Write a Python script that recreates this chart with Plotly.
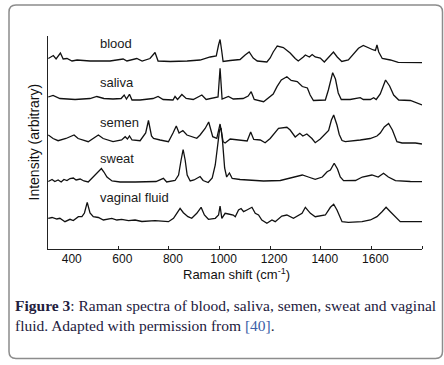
import plotly.graph_objects as go

# ---------------- data ----------------
names = ["blood", "saliva", "semen", "sweat", "vaginal fluid"]
offsets = [186, 144, 105, 67, 27]

blood_x = [323, 343, 354, 371, 382, 397, 417, 437, 488, 567, 619, 634, 673, 694, 725, 745, 757, 805,
           872, 923, 963, 987, 996, 1002, 1008, 1014, 1042, 1081, 1101, 1117, 1133, 1149, 1187, 1200,
           1212, 1228, 1252, 1279, 1299, 1311, 1331, 1339, 1355, 1366, 1378, 1398, 1414, 1434, 1450,
           1465, 1483, 1509, 1525, 1549, 1568, 1588, 1608, 1616, 1622, 1629, 1643, 1675, 1706, 1800]
blood_y = [4.5, 7.5, 4, 10, 4, 4.5, 2, 3, 2, 2, 4, 2, 4.5, 2, 4.5, 10.5, 2, 1.5,
           2, 3, 6, 7, 18, 23.5, 13, 1.5, 2.5, 3.5, 8, 11, 5, 2, 1, 5,
           11, 17, 15.5, 10, 4.5, 2, 6, 8, 6, 8.5, 6, 5, 1, 6, 11,
           6, 1.5, 3, 8, 14.7, 17.5, 15, 13, 12.5, 18, 11, 4.5, 3, 0.7, 0.3]

saliva_x = [323, 342, 369, 429, 488, 515, 543, 579, 611, 623, 632, 644, 654, 686, 737, 757, 777, 816,
            824, 834, 851, 868, 896, 930, 947, 979, 994, 1002, 1010, 1035, 1054, 1093, 1113, 1125,
            1137, 1174, 1200, 1212, 1227, 1244, 1266, 1283, 1307, 1327, 1347, 1358, 1371, 1390, 1418,
            1430, 1447, 1458, 1469, 1481, 1516, 1556, 1568, 1596, 1609, 1619, 1635, 1656, 1672, 1688,
            1708, 1754, 1800]
saliva_y = [8, 9.5, 6.5, 5.5, 6.5, 8.5, 6.5, 6, 6.5, 10, 6, 10.7, 5, 5, 6.5, 8.5, 5.5, 5,
            8.5, 5.5, 10.5, 6.5, 5.5, 10, 5.5, 7, 8, 36.7, 6, 8.5, 6, 6.5, 9, 13.3,
            5.5, 3.3, 8.3, 11, 18.3, 25, 28.3, 24.5, 23.5, 18.5, 17, 10, 4.5, 5, 5,
            15, 32.3, 26, 12, 5.5, 5.5, 7.3, 5.5, 5.5, 7.3, 5.5, 11, 25, 19, 10,
            5, 4.5, 0]

semen_x = [323, 342, 362, 393, 425, 441, 481, 500, 521, 540, 579, 613, 627, 636, 644, 654, 686, 708,
           719, 731, 739, 765, 798, 816, 829, 840, 855, 871, 890, 910, 923, 943, 957, 973, 989, 1002,
           1014, 1022, 1042, 1081, 1109, 1123, 1135, 1161, 1180, 1200, 1216, 1233, 1266, 1279, 1299,
           1317, 1329, 1345, 1365, 1378, 1398, 1418, 1431, 1442, 1451, 1464, 1473, 1484, 1497, 1556,
           1595, 1622, 1635, 1651, 1668, 1683, 1701, 1721, 1774, 1800]
semen_y = [9, 5.5, 3.3, 5.5, 9, 5.5, 2.3, 5.5, 9, 5.5, 2.3, 4, 7.3, 5, 8, 4, 3.3, 11,
           23.5, 8, 5.5, 4, 2.3, 11, 18, 11, 13.5, 9, 7.3, 5.7, 9, 15.5, 22, 7.3, 5.7, 20,
           2.3, 1, 5, 4, 3, 12, 4.5, 4, 1.3, 5.5, 11, 15.7, 16.7, 14, 7,
           10.7, 8, 10, 5.5, 1.3, 5, 10.7, 13.5, 24, 29, 19, 9.5, 3.5, 2.3, 4,
           5.5, 8, 11, 17, 20.5, 14, 2.3, 1, 1, 0]

sweat_x = [323, 338, 349, 362, 374, 385, 397, 409, 422, 433, 449, 464, 481, 496, 508, 517, 533, 543,
           555, 575, 607, 666, 718, 749, 778, 791, 824, 838, 848, 856, 864, 872, 884, 899, 923, 935,
           955, 971, 983, 992, 1000, 1006, 1012, 1020, 1028, 1039, 1050, 1081, 1121, 1174, 1240, 1299,
           1327, 1351, 1378, 1406, 1425, 1438, 1453, 1466, 1477, 1490, 1537, 1564, 1602, 1627, 1648,
           1667, 1695, 1754, 1800]
sweat_y = [0.5, 2.5, 0.5, 2, 0, 2.5, 1.5, 3.5, 4, 2, 3, 1, 0, 4, 7, 9, 13.5, 10,
           5, 1, 0, 0, 0, 0.5, 3.7, 0, 1.5, 7, 22, 32.5, 22, 7, 1, 2, 5.5, 1.5,
           -0.5, 4, 17, 37, 52, 54, 40, 14, 5, 9, 3.5, 2.5, 2, 1, 1.5, 5,
           7, 5, 2.7, 5, 10.3, 12, 18.7, 13, 5, 1.3, 1.5, 5, 7, 5, 8.7,
           5, 1.3, 0.5, 0.3]

vaginal_x = [323, 338, 357, 369, 389, 409, 422, 442, 456, 466, 477, 488, 501, 521, 541, 574, 594, 613,
             640, 666, 693, 745, 798, 818, 831, 844, 857, 875, 890, 910, 927, 940, 956, 983, 996, 1002,
             1009, 1022, 1035, 1054, 1062, 1075, 1085, 1095, 1108, 1128, 1141, 1154, 1167, 1187, 1207,
             1220, 1246, 1266, 1292, 1312, 1326, 1339, 1359, 1378, 1405, 1418, 1438, 1451, 1464, 1484,
             1509, 1563, 1596, 1622, 1642, 1658, 1675, 1695, 1714, 1800]
vaginal_y = [3.7, 4.5, 3, 3.7, 0.3, 2.7, 1.5, 5.3, 5.3, 9, 19.7, 9, 5.3, 4.5, 2, 3.7, 2, 2.7,
             1.3, 2, 0.5, 1.3, 0.3, 3.7, 8.7, 13.7, 9.3, 5.3, 3.7, 8.7, 14.7, 7, 2.7, 3.7, 7, 16,
             3.7, 8.7, 8, 7, 5.3, 12, 13.5, 10.3, 12, 14.7, 8.7, 7, 2, -1.3, 2,
             0.3, 6, 7, 3.7, 7, 8.7, 14.7, 8.7, 5.3, 6, 7, 14.7, 17.7, 12, 0.3,
             -0.3, 0.3, 2, 5.3, 10.3, 14.7, 10.3, 5.3, 0.3, 0.3]

spectra_x = [blood_x, saliva_x, semen_x, sweat_x, vaginal_x]
spectra_y = [blood_y, saliva_y, semen_y, sweat_y, vaginal_y]

tick_values = [400, 600, 800, 1000, 1200, 1400, 1600]
tick_marks = [600, 800, 1000, 1200, 1400, 1600, 1800]

# ---------------- layout constants ----------------
W, H = 444, 365
ML, MR, MT, MB = 48, 22, 36, 116
PW, PH = W - ML - MR, H - MT - MB
label_dy = [20, 22.7, 21.3, 23.7, 24.7]


def px(x):
    return (x - ML) / PW


def py(y):
    return (MT + PH - y) / PH


fig = go.Figure()
for xs, ys, off in zip(spectra_x, spectra_y, offsets):
    fig.add_trace(go.Scatter(
        x=xs, y=[v + off for v in ys], mode="lines",
        line=dict(color="#111111", width=1.3),
        hoverinfo="skip", showlegend=False))

annotations = []
for name, off, dy in zip(names, offsets, label_dy):
    annotations.append(dict(x=520, y=off + dy, xref="x", yref="y", text=name,
                            showarrow=False, xanchor="left", yanchor="middle",
                            font=dict(family="Liberation Sans, Arial", size=13, color="#1a1a1a")))

annotations.append(dict(x=px(33), y=0.5, xref="paper", yref="paper",
                        text="Intensity (arbitrary)", textangle=-90, showarrow=False,
                        xanchor="center", yanchor="middle",
                        font=dict(family="Liberation Sans, Arial", size=14, color="#111111")))
annotations.append(dict(x=px(236), y=py(274), xref="paper", yref="paper",
                        text="Raman shift (cm<sup>-1</sup>)", showarrow=False,
                        xanchor="center", yanchor="middle",
                        font=dict(family="Liberation Sans, Arial", size=13, color="#111111")))

cap_font = dict(family="Liberation Serif, Times New Roman, serif", size=15.5, color="#23203d")
annotations.append(dict(x=px(13), y=py(305), xref="paper", yref="paper",
                        text="<b>Figure 3</b>: Raman spectra of blood, saliva, semen, sweat and vaginal",
                        showarrow=False, xanchor="left", yanchor="middle", font=cap_font))
annotations.append(dict(x=px(13), y=py(325), xref="paper", yref="paper",
                        text="fluid. Adapted with permission from <span style='color:#3d5fa8'>[40]</span>.",
                        showarrow=False, xanchor="left", yanchor="middle", font=cap_font))

# rounded frame
L, R, T, B, r = 9, 442.5, 5, 358.5, 7
path = (f"M {px(L + r)},{py(T)} L {px(R - r)},{py(T)} Q {px(R)},{py(T)} {px(R)},{py(T + r)} "
        f"L {px(R)},{py(B - r)} Q {px(R)},{py(B)} {px(R - r)},{py(B)} "
        f"L {px(L + r)},{py(B)} Q {px(L)},{py(B)} {px(L)},{py(B - r)} "
        f"L {px(L)},{py(T + r)} Q {px(L)},{py(T)} {px(L + r)},{py(T)} Z")

fig.update_layout(
    width=W, height=H,
    margin=dict(l=ML, r=MR, t=MT, b=MB, autoexpand=False),
    plot_bgcolor="white", paper_bgcolor="white",
    annotations=annotations,
    shapes=[dict(type="path", path=path, xref="paper", yref="paper",
                 line=dict(color="#8c8c8c", width=1.5), layer="below")],
    xaxis=dict(range=[322, 1800], showline=True, linecolor="#222222", linewidth=1,
               showgrid=False, zeroline=False, automargin=False,
               tickmode="array", tickvals=tick_values, ticks="",
               ticklabelshift=4, ticklabelstandoff=-1,
               tickfont=dict(family="Liberation Sans, Arial", size=12, color="#111111"),
               minor=dict(tickmode="array", tickvals=tick_marks, ticks="inside",
                          ticklen=3, tickcolor="#222222", tickwidth=1, showgrid=False)),
    yaxis=dict(range=[0, PH], showline=True, linecolor="#222222", linewidth=1,
               showgrid=False, zeroline=False, showticklabels=False, ticks="",
               automargin=False),
)

fig.write_html("out.html", config={"displayModeBar": False},
               post_script="document.body.style.margin='0';")
